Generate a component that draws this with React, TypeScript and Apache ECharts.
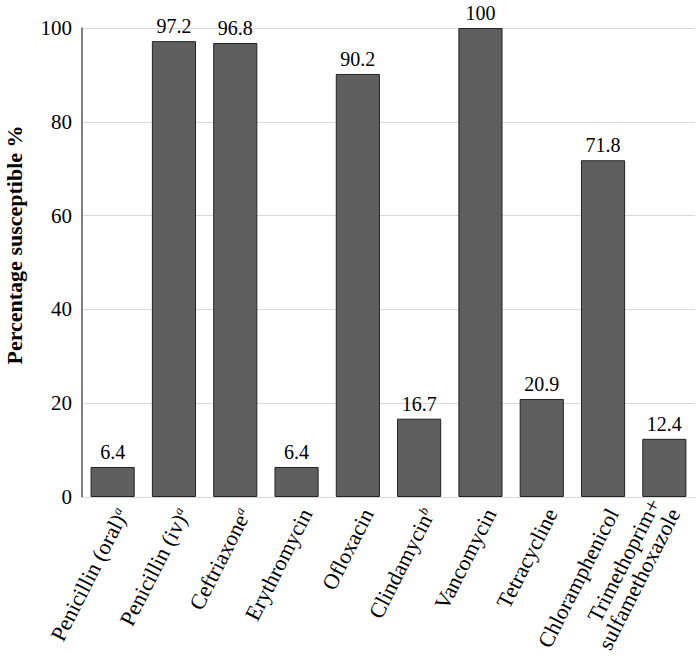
import React, { useEffect, useRef } from "react";
import * as echarts from "echarts";

const categories = [
  "Penicillin (oral){sup|a}",
  "Penicillin (iv){sup|a}",
  "Ceftriaxone{sup|a}",
  "Erythromycin",
  "Ofloxacin",
  "Clindamycin{sup|b}",
  "Vancomycin",
  "Tetracycline",
  "Chloramphenicol",
  "Trimethoprim+\nsulfamethoxazole",
];
const values = [6.4, 97.2, 96.8, 6.4, 90.2, 16.7, 100, 20.9, 71.8, 12.4];
const yTicks = [0, 20, 40, 60, 80, 100];
const yTitle = "Percentage susceptible %";

const FONT = "Liberation Serif, serif";

export default function App() {
  const ref = useRef<HTMLDivElement>(null);
  useEffect(() => {
    if (!ref.current) return;
    const chart = echarts.init(ref.current, undefined, { renderer: "svg" });
    const catData = categories.map((c) =>
      c.indexOf("\n") >= 0
        ? { value: c, textStyle: { verticalAlign: "middle" } }
        : { value: c, textStyle: { verticalAlign: "top" } }
    );
    chart.setOption({
      animation: false,
      textStyle: { fontFamily: FONT },
      grid: { left: 82, right: 5, top: 28, bottom: 171, containLabel: false },
      graphic: [
        {
          type: "text",
          x: 14,
          y: 245,
          rotation: Math.PI / 2,
          style: {
            text: yTitle,
            fontFamily: FONT,
            fontSize: 22,
            fontWeight: "bold",
            fill: "#000",
            align: "center",
            verticalAlign: "middle",
          },
        },
      ],
      xAxis: {
        type: "category",
        data: catData,
        axisLine: { show: true, lineStyle: { color: "#d9d9d9", width: 1 } },
        axisTick: { show: false },
        axisLabel: {
          rotate: 63,
          interval: 0,
          margin: 8,
          fontFamily: FONT,
          fontSize: 22,
          color: "#000",
          lineHeight: 22,
          rich: {
            sup: {
              fontFamily: FONT,
              fontSize: 13,
              fontStyle: "italic",
              color: "#000",
              verticalAlign: "top",
              lineHeight: 22,
            },
          },
        },
      },
      yAxis: {
        type: "value",
        min: yTicks[0],
        max: yTicks[yTicks.length - 1],
        interval: 20,
        axisLine: { show: true, lineStyle: { color: "#555", width: 1.5 } },
        axisTick: { show: false },
        axisLabel: {
          fontFamily: FONT,
          fontSize: 21,
          color: "#000",
          margin: 10,
        },
        splitLine: { lineStyle: { color: "#d9d9d9", width: 1 } },
      },
      series: [
        {
          type: "bar",
          data: values,
          barWidth: "72%",
          itemStyle: { color: "#5f5f5f", borderColor: "#222", borderWidth: 1 },
          label: {
            show: true,
            position: "top",
            distance: 5,
            fontFamily: FONT,
            fontSize: 20,
            color: "#000",
          },
        },
      ],
    });
    return () => chart.dispose();
  }, []);
  return <div ref={ref} style={{ width: 700, height: 668, position: "absolute", left: 0, top: 0 }} />;
}
